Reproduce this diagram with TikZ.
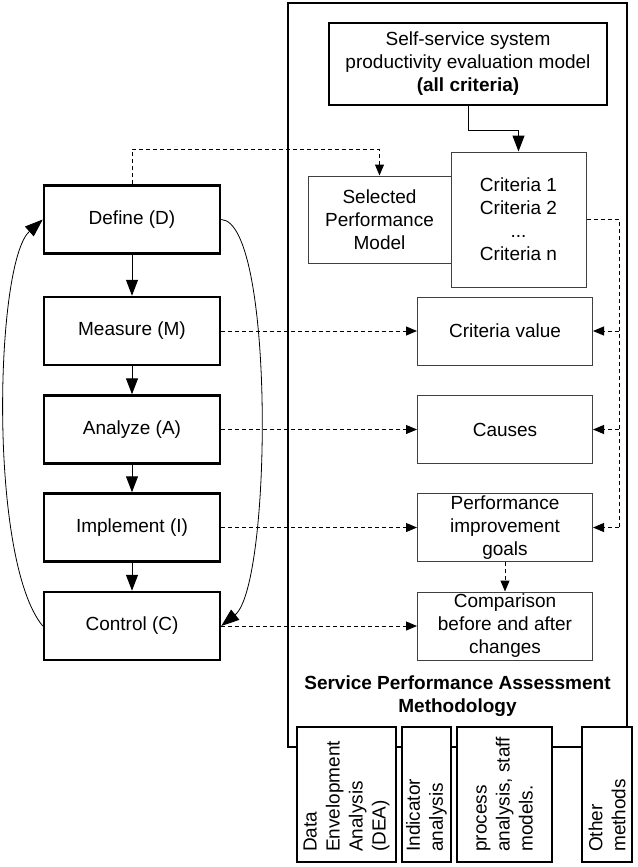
\documentclass[tikz,border=0pt]{standalone}
\usepackage{fontspec}
\setmainfont{Liberation Sans}
\usetikzlibrary{arrows.meta}
\begin{document}
\begin{tikzpicture}[x=1pt,y=-1pt,
  font=\fontsize{19}{23}\selectfont,
  stage/.style={draw, line width=2.5pt, minimum width=176pt, minimum height=68pt, inner sep=0pt},
  result/.style={draw=black!75, line width=1pt, minimum width=175pt, minimum height=68pt, align=center, inner sep=0pt},
  thinbox/.style={draw=black!75, line width=1pt, align=center, inner sep=0pt},
  method/.style={draw, line width=2.5pt, fill=white, minimum height=135pt, inner sep=0pt},
  vtext/.style={rotate=90, anchor=west, align=left, inner sep=0pt},
  flow/.style={line width=1pt, -{Triangle[length=16pt,width=12pt]}},
  loop/.style={line width=0.8pt, -{Triangle[length=18pt,width=13pt]}},
  link/.style={line width=1pt, dash pattern=on 4pt off 3pt, -{Triangle[length=11pt,width=9pt]}},
  rail/.style={line width=1pt, dash pattern=on 4pt off 3pt},
]
\useasboundingbox (0,0) rectangle (637,867);

% methodology frame
\node[draw, line width=2.5pt, minimum width=339pt, minimum height=744pt, inner sep=0pt] (frame) at (457.5,375) {};

% DMAIC stages
\node[stage] (def) at (132,219.5) {Define (D)};
\node[stage] (meas) at (132,331) {Measure (M)};
\node[stage] (anl) at (132,429.5) {Analyze (A)};
\node[stage] (impl) at (132,527.5) {Implement (I)};
\node[stage] (ctl) at (132,626) {Control (C)};

% model and criteria
\node[draw, line width=2.5pt, minimum width=278pt, minimum height=82pt, align=center, inner sep=0pt] (top) at (468,64)
  {Self-service system\\productivity evaluation model\\\textbf{(all criteria)}};
\node[thinbox, minimum width=135pt, minimum height=135pt] (crit) at (518.5,219.5)
  {Criteria 1\\Criteria 2\\...\\Criteria n};
\node[thinbox, minimum width=143pt, minimum height=87pt] (sel) at (379.5,219.5)
  {Selected\\Performance\\Model};

% results
\node[result] (cv) at (505,331) {Criteria value};
\node[result] (cause) at (505,429.5) {Causes};
\node[result] (perf) at (505,527.5) {Performance\\improvement\\goals};
\node[result] (comp) at (505,626) {Comparison\\before and after\\changes};

\node[font=\fontsize{19}{23}\selectfont\bfseries, align=center, inner sep=0pt] (title) at (457.5,696.5)
  {Service Performance Assessment\\Methodology};

% assessment methods
\node[method, minimum width=99pt] (mdea) at (346.5,794.5) {};
\node[method, minimum width=49pt] (mind) at (426.5,794.5) {};
\node[method, minimum width=95pt] (mproc) at (504.5,794.5) {};
\node[method, minimum width=50pt] (moth) at (607,794.5) {};
\node[vtext] (tdea) at (346.5,852) {Data\\Envelopment\\Analysis\\(DEA)};
\node[vtext] (tind) at (426.5,852) {Indicator\\analysis};
\node[vtext] (tproc) at (504.5,852) {process\\analysis, staff\\models.};
\node[vtext] (toth) at (607,852) {Other\\methods};

% DMAIC flow
\draw[flow] (def) -- (meas);
\draw[flow] (meas) -- (anl);
\draw[flow] (anl) -- (impl);
\draw[flow] (impl) -- (ctl);
\draw[loop] (ctl.west) .. controls (-12,560) and (-5,262) .. (def.west);
\draw[loop] (def.east) .. controls (275,222) and (272,585) .. (ctl.east);

% model to criteria
\draw[flow] (top.south) -- ++(0,24) -| (crit.north);
\draw[link] (def.north) -- ++(0,-35) -| (sel.north);

% stage outputs
\draw[link] (meas) -- (cv);
\draw[link] (anl) -- (cause);
\draw[link] (impl) -- (perf);
\draw[link] (ctl) -- (comp);
\draw[link] (perf) -- (comp);

% criteria feed
\coordinate (r0) at (619,219.5);
\draw[rail] (crit.east) -- (r0) -- (r0 |- perf.east);
\draw[link] (r0 |- cv.east) -- (cv.east);
\draw[link] (r0 |- cause.east) -- (cause.east);
\draw[link] (r0 |- perf.east) -- (perf.east);
\end{tikzpicture}
\end{document}
